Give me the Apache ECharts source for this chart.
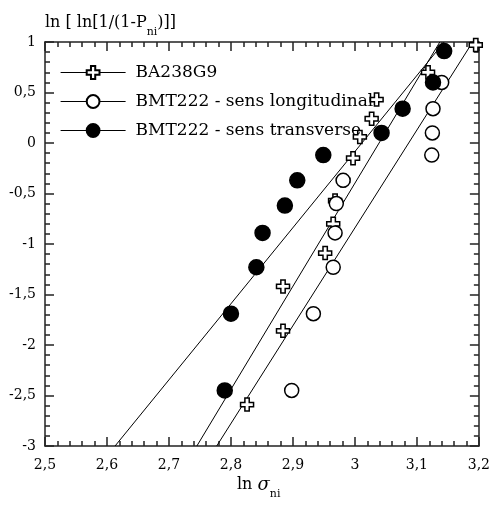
<!DOCTYPE html>
<html><head><meta charset="utf-8">
<script src="https://cdn.jsdelivr.net/npm/echarts@6/dist/echarts.min.js"></script>
<style>html,body{margin:0;padding:0;background:#fff}#c{width:493px;height:506px}</style>
</head><body><div id="c"></div>
<script>
// ---- data ----
var seriesNames = ['BA238G9', 'BMT222 - sens longitudinal', 'BMT222 - sens transverse'];
var ba238X = [2.826, 2.884, 2.884, 2.952, 2.965, 2.968, 2.981, 2.997, 3.008, 3.027, 3.035, 3.118, 3.195];
var ba238Y = [-2.59, -1.86, -1.42, -1.09, -0.80, -0.57, -0.37, -0.15, 0.06, 0.24, 0.43, 0.70, 0.97];
var longX = [2.898, 2.933, 2.965, 2.968, 2.970, 2.981, 3.124, 3.125, 3.126, 3.140];
var longY = [-2.45, -1.69, -1.23, -0.89, -0.60, -0.37, -0.12, 0.10, 0.34, 0.60];
var transX = [2.790, 2.800, 2.841, 2.851, 2.887, 2.907, 2.949, 3.043, 3.077, 3.126, 3.144];
var transY = [-2.45, -1.69, -1.23, -0.89, -0.62, -0.37, -0.12, 0.10, 0.34, 0.60, 0.91];
// fitted lines (end points)
var fitBA238X = [2.777, 3.190];  var fitBA238Y = [-3, 1];
var fitLongX = [2.745, 3.137];   var fitLongY = [-3, 1];
var fitTransX = [2.613, 3.144];  var fitTransY = [-3, 1];
var xTicks = {min: 2.5, max: 3.2, step: 0.1};
var yTicks = {min: -3, max: 1, step: 0.5};

function zip(a, b) { return a.map(function (v, i) { return [v, b[i]]; }); }
function fmt(v) { return String(Math.round(v * 100) / 100).replace('.', ','); }

var FONT = 'DejaVu Serif';
var axisCol = '#222';
function mkAxis(isX, pos, showLabel) {
  var t = isX ? xTicks : yTicks;
  return {
    type: 'value', position: pos, min: t.min, max: t.max, interval: t.step,
    axisLine: {show: true, onZero: false, lineStyle: {color: axisCol, width: 1.5}},
    axisTick: {show: true, inside: true, length: 9, lineStyle: {color: axisCol, width: 1.5}},
    minorTick: {show: true, splitNumber: 5, length: 5, lineStyle: {color: axisCol, width: 1.5}},
    splitLine: {show: false},
    axisLabel: {show: showLabel, formatter: fmt, color: '#000', fontFamily: FONT, fontSize: 14, margin: isX ? 12 : 9}
  };
}
var plusPath = 'path://M4,0H8V4H12V8H8V12H4V8H0V4H4Z';

function fitSeries(xs, ys) {
  return {type: 'line', data: zip(xs, ys), symbol: 'none', silent: true, z: 1,
    lineStyle: {color: '#000', width: 1}, legendHoverLink: false};
}
function pointSeries(name, xs, ys, sym, size, fill, z) {
  return {type: 'line', name: name, data: zip(xs, ys), symbol: sym, symbolSize: size,
    showAllSymbol: true, z: z,
    lineStyle: {opacity: 0}, itemStyle: {color: fill, borderColor: '#000', borderWidth: 1.5, opacity: 1}};
}

var chart = echarts.init(document.getElementById('c'), null, {renderer: 'canvas'});
chart.setOption({
  animation: false,
  backgroundColor: '#fff',
  grid: {left: 45, right: 14, top: 42, bottom: 60},
  xAxis: [mkAxis(true, 'bottom', true), mkAxis(true, 'top', false)],
  yAxis: [mkAxis(false, 'left', true), mkAxis(false, 'right', false)],
  title: {
    left: 40, top: 2,
    text: '{a|ln [ ln[1/(1-P}{s|ni}{a|)]]}',
    textStyle: {fontWeight: 'normal', rich: {
      a: {fontFamily: FONT, fontSize: 16, fontWeight: 'normal', color: '#000', lineHeight: 30, verticalAlign: 'middle'},
      s: {fontFamily: FONT, fontSize: 11, fontWeight: 'normal', color: '#000', padding: [20, 0, 0, 0], verticalAlign: 'middle'}
    }}
  },
  graphic: [{
    type: 'text', left: 237, top: 476,
    style: {text: '{a|ln }{g|σ}{s|ni}', rich: {
      a: {fontFamily: FONT, fontSize: 16, fill: '#000', lineHeight: 26},
      g: {fontFamily: FONT, fontSize: 18, fontStyle: 'italic', fill: '#000', lineHeight: 26},
      s: {fontFamily: FONT, fontSize: 11, fill: '#000', padding: [18, 0, 0, 0]}
    }}
  }],
  legend: {
    orient: 'vertical', left: 60, top: 64, padding: 0,
    itemWidth: 65, itemHeight: 16, itemGap: 12,
    data: seriesNames,
    selectedMode: false,
    lineStyle: {opacity: 1, color: '#000', width: 1.2},
    textStyle: {fontFamily: FONT, fontSize: 17, color: '#000', padding: [0, 0, 0, 5]}
  },
  series: [
    fitSeries(fitBA238X, fitBA238Y),
    fitSeries(fitLongX, fitLongY),
    fitSeries(fitTransX, fitTransY),
    pointSeries(seriesNames[0], ba238X, ba238Y, plusPath, 13, '#fff', 3),
    pointSeries(seriesNames[1], longX, longY, 'circle', 14, '#fff', 4),
    pointSeries(seriesNames[2], transX, transY, 'circle', 15, '#000', 5)
  ]
});
</script></body></html>
